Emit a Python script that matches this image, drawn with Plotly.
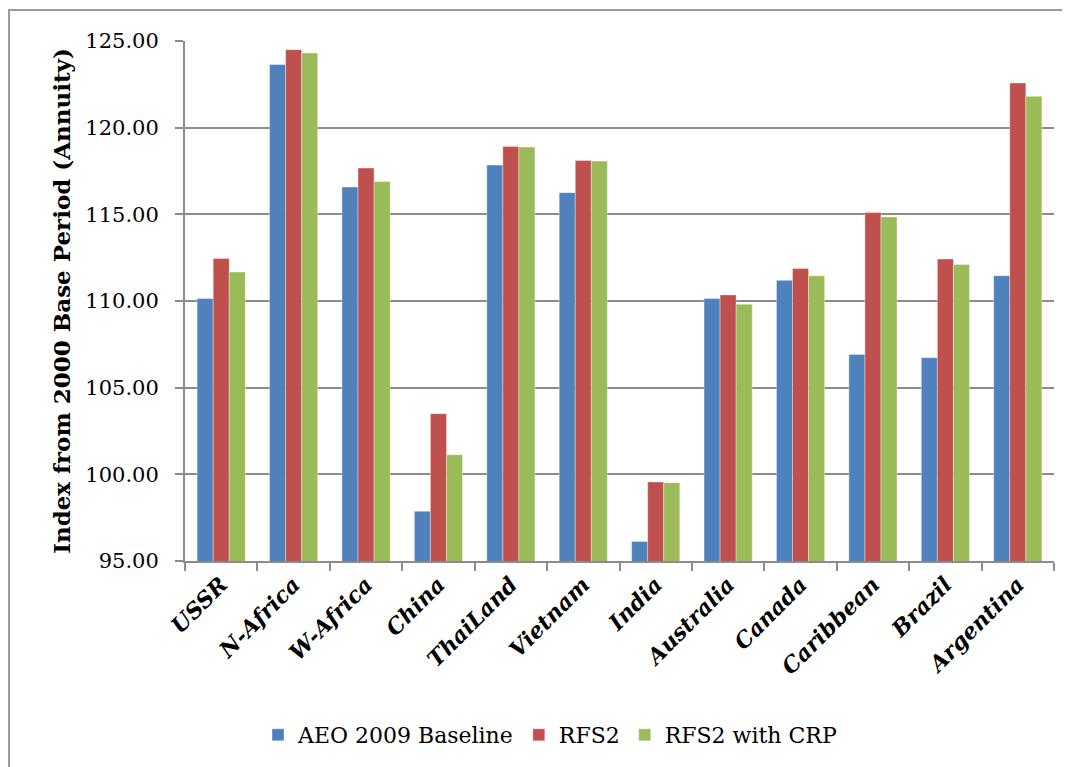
import plotly.graph_objects as go

categories = ["USSR", "N-Africa", "W-Africa", "China", "ThaiLand", "Vietnam",
              "India", "Australia", "Canada", "Caribbean", "Brazil", "Argentina"]
aeo_baseline = [110.14, 123.64, 116.57, 97.87, 117.84, 116.25, 96.12, 110.14, 111.19, 106.92, 106.73, 111.46]
rfs2 = [112.45, 124.50, 117.67, 103.50, 118.92, 118.11, 99.56, 110.35, 111.87, 115.10, 112.42, 122.58]
rfs2_crp = [111.67, 124.31, 116.90, 101.13, 118.88, 118.07, 99.52, 109.81, 111.45, 114.85, 112.10, 121.81]
series_names = ["AEO 2009 Baseline", "RFS2", "RFS2 with CRP"]
colors = ["#4F81BD", "#C0504D", "#9BBB59"]
ytick_vals = [95, 100, 105, 110, 115, 120, 125]

# page has an 8px body margin; work in figure coordinates
OFF = 8
W, H = 1070 - OFF, 767 - OFF
ml, mt = 185 - OFF, 41 - OFF
mr = W - (1054 - OFF)
mb = H - (561 - OFF)
pw, ph = W - ml - mr, H - mt - mb

fig = go.Figure()
for name, vals, c in zip(series_names, [aeo_baseline, rfs2, rfs2_crp], colors):
    fig.add_trace(go.Bar(x=categories, y=vals, name=name,
                         marker=dict(color=c, line=dict(color="rgba(255,255,255,0.6)", width=0.6))))

serif = "DejaVu Serif"
grid = "#8C8C8C"

def px_x(p):
    return (p - OFF - ml) / pw

def px_y(p):
    return (H - mb - (p - OFF)) / ph

fig.update_layout(
    width=W, height=H,
    margin=dict(l=ml, r=mr, t=mt, b=mb, autoexpand=False),
    paper_bgcolor="white", plot_bgcolor="white",
    barmode="group", bargap=0.335, bargroupgap=0,
    font=dict(family=serif, color="black"),
    showlegend=True,
    legend=dict(orientation="h", x=px_x(550), y=px_y(735), xanchor="center", yanchor="middle",
                font=dict(family=serif, size=22), itemwidth=30, tracegroupgap=0),
    xaxis=dict(
        showline=True, linecolor=grid, linewidth=2,
        ticks="outside", ticklen=8, tickcolor=grid, tickwidth=2,
        tickson="boundaries", tickangle=-45,
        tickfont=dict(family=serif, size=22, weight="bold", style="italic"),
        showgrid=False,
    ),
    yaxis=dict(
        range=[95, 125], tickvals=ytick_vals,
        tickformat=".2f",
        showline=True, linecolor=grid, linewidth=2,
        ticks="outside", ticklen=8, tickcolor=grid, tickwidth=2,
        ticklabelstandoff=12,
        tickfont=dict(family=serif, size=21),
        showgrid=True, gridcolor=grid, gridwidth=2,
        zeroline=False,
        title=dict(text="Index from 2000 Base Period (Annuity)",
                   font=dict(family=serif, size=23, weight="bold"), standoff=8),
    ),
    shapes=[dict(type="rect", xref="paper", yref="paper",
                 x0=px_x(9), x1=px_x(1080), y0=px_y(780), y1=px_y(10),
                 line=dict(color="#9A9A9A", width=2), fillcolor="rgba(0,0,0,0)", layer="below")],
)

fig.write_html("out.html")
